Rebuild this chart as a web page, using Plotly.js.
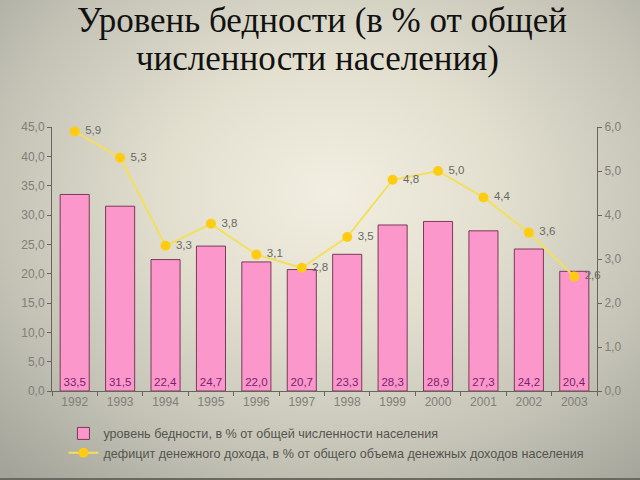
<!DOCTYPE html>
<html>
<head>
<meta charset="utf-8">
<script src="https://cdn.plot.ly/plotly-3.0.1.min.js"></script>
<style>
html, body { margin: 0; padding: 0; }
body {
  width: 640px; height: 480px; overflow: hidden;
  background: radial-gradient(ellipse 75% 80% at 52% 40%, #f2efe2 0%, #e2dfcf 35%, #c4c3b6 70%, #a3a399 100%);
}
#chart { width: 640px; height: 480px; box-shadow: inset 0 -2px 0 #6a6a62; }
</style>
</head>
<body>
<div id="chart"></div>
<script>
const years = ['1992','1993','1994','1995','1996','1997','1998','1999','2000','2001','2002','2003'];
const povertyLevel = [33.5, 31.5, 22.4, 24.7, 22.0, 20.7, 23.3, 28.3, 28.9, 27.3, 24.2, 20.4];
const incomeDeficit = [5.9, 5.3, 3.3, 3.8, 3.1, 2.8, 3.5, 4.8, 5.0, 4.4, 3.6, 2.6];
const barName = 'уровень бедности, в % от общей численности населения';
const lineName = 'дефицит денежного дохода, в % от общего объема денежных доходов населения';
const titleLines = ['Уровень бедности (в % от общей', 'численности населения)'];

const tickFont = {family: 'Liberation Sans, Arial, sans-serif', size: 12, color: '#808078'};

const traces = [
  {
    type: 'bar', x: years, y: povertyLevel, name: barName,
    marker: {color: '#fc97cb', line: {color: '#7a3a58', width: 1}},
    texttemplate: '%{y:.1f}', textposition: 'inside', insidetextanchor: 'start',
    textangle: 0,
    textfont: {family: 'Liberation Sans, Arial, sans-serif', size: 11.5, color: '#7a1f6e'},
    hoverinfo: 'skip'
  },
  {
    type: 'scatter', mode: 'lines+markers+text', x: years, y: incomeDeficit, yaxis: 'y2', name: lineName,
    line: {color: '#f3df5e', width: 2},
    marker: {color: '#ffcc11', size: 10},
    texttemplate: ' %{y:.1f}', textposition: 'middle right',
    textfont: {family: 'Liberation Sans, Arial, sans-serif', size: 11.5, color: '#6a6a62'},
    cliponaxis: false,
    hoverinfo: 'skip'
  }
];

const layout = {
  width: 640, height: 480,
  paper_bgcolor: 'rgba(0,0,0,0)', plot_bgcolor: 'rgba(0,0,0,0)',
  separators: ', ',
  margin: {l: 52, r: 43, t: 127, b: 85},
  annotations: [
    {text: titleLines[0], xref: 'paper', yref: 'paper', x: 0.495, y: 1.405, xanchor: 'center', yanchor: 'middle',
     showarrow: false, font: {family: 'Liberation Serif, Times New Roman, serif', size: 35, color: '#111111'}},
    {text: titleLines[1], xref: 'paper', yref: 'paper', x: 0.488, y: 1.258, xanchor: 'center', yanchor: 'middle',
     showarrow: false, font: {family: 'Liberation Serif, Times New Roman, serif', size: 35, color: '#111111'}}
  ],
  showlegend: true,
  legend: {
    x: 0.021, y: -0.105, xanchor: 'left', yanchor: 'top', orientation: 'v',
    bgcolor: 'rgba(0,0,0,0)',
    font: {family: 'Liberation Sans, Arial, sans-serif', size: 12.6, color: '#55554f'},
    tracegroupgap: 0, itemwidth: 30
  },
  bargap: 0.36,
  xaxis: {
    type: 'category', range: [-0.5, 11.5], autorange: false, tickfont: tickFont,
    showline: true, linecolor: '#66665f', linewidth: 1,
    ticks: 'outside', tickson: 'boundaries', ticklen: 4, tickcolor: '#66665f',
    showgrid: false, zeroline: false
  },
  yaxis: {
    range: [0, 45], autorange: false, dtick: 5, tickformat: '.1f', tickfont: tickFont,
    showline: true, linecolor: '#66665f', linewidth: 1,
    ticks: 'outside', ticklen: 4, tickcolor: '#66665f',
    showgrid: false, zeroline: false
  },
  yaxis2: {
    range: [0, 6], autorange: false, dtick: 1, tickformat: '.1f', tickfont: tickFont,
    overlaying: 'y', side: 'right',
    showline: true, linecolor: '#66665f', linewidth: 1,
    ticks: 'outside', ticklen: 4, tickcolor: '#66665f',
    showgrid: false, zeroline: false
  }
};

Plotly.newPlot('chart', traces, layout, {displayModeBar: false, staticPlot: true});
</script>
</body>
</html>
